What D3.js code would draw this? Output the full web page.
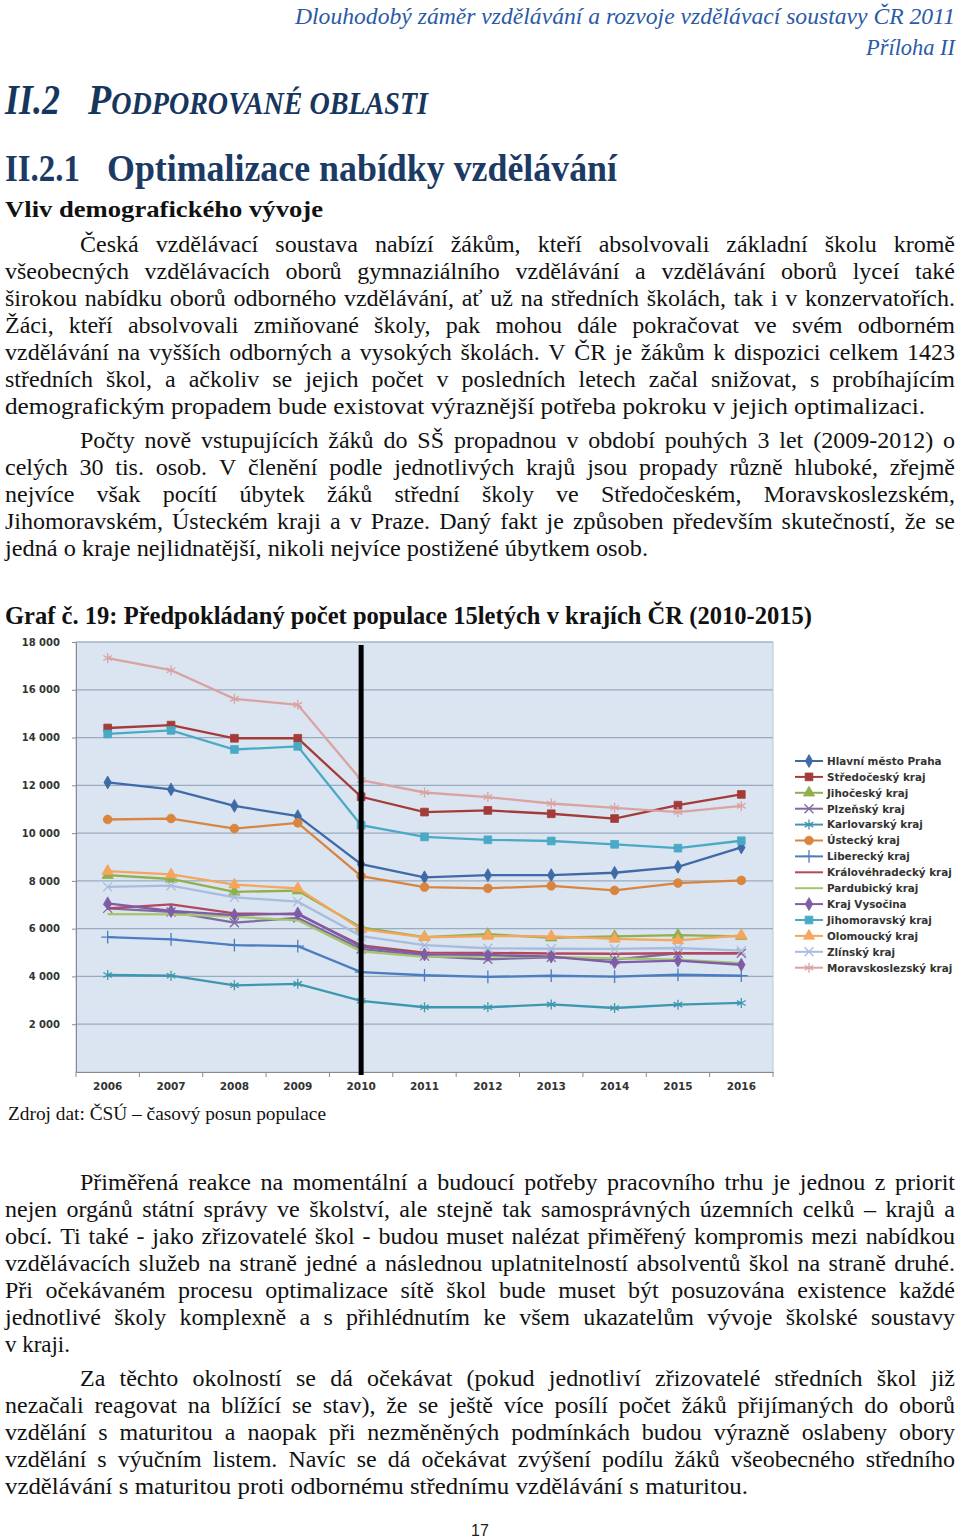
<!DOCTYPE html>
<html><head><meta charset="utf-8">
<script src="https://cdn.jsdelivr.net/npm/d3@7"></script>
<style>body{margin:0;background:#fff} svg{display:block}</style>
</head><body>
<svg id="page" width="960" height="1540"></svg>
<script>
// ---------- DATA ----------
const years = ["2006","2007","2008","2009","2010","2011","2012","2013","2014","2015","2016"];
const seriesNames = ["Hlavní město Praha","Středočeský kraj","Jihočeský kraj","Plzeňský kraj","Karlovarský kraj","Ústecký kraj","Liberecký kraj","Královéhradecký kraj","Pardubický kraj","Kraj Vysočina","Jihomoravský kraj","Olomoucký kraj","Zlínský kraj","Moravskoslezský kraj"];
const praha        = [12120,11830,11140,10710,8700,8150,8240,8240,8340,8590,9400];
const stredocesky  = [14400,14520,13970,13970,11520,10880,10950,10810,10610,11170,11620];
const jihocesky    = [8240,8080,7540,7590,6050,5650,5770,5620,5680,5730,5680];
const plzensky     = [6850,6700,6250,6450,5150,4850,4720,4800,4700,4970,4970];
const karlovarsky  = [4060,4030,3630,3690,2980,2710,2710,2830,2680,2820,2890];
const ustecky      = [10570,10610,10190,10430,8200,7740,7690,7790,7600,7910,8020];
const liberecky    = [5650,5550,5310,5270,4180,4050,3980,4030,3990,4070,4030];
const kralovehradecky = [6850,7020,6640,6600,5300,5000,4990,4960,4950,4970,4970];
const pardubicky   = [6610,6600,6500,6350,5050,4820,4850,4820,4760,4700,4560];
const vysocina     = [7060,6740,6570,6640,5250,4920,4900,4830,4590,4660,4490];
const jihomoravsky = [14150,14300,13500,13630,10330,9840,9720,9670,9530,9370,9680];
const olomoucky    = [8410,8270,7840,7690,5980,5640,5690,5680,5570,5510,5720];
const zlinsky      = [7750,7800,7310,7130,5690,5310,5180,5160,5150,5190,5080];
const moravskoslezsky = [17330,16820,15620,15370,12220,11700,11510,11240,11060,10880,11140];
const yTicks = [2000,4000,6000,8000,10000,12000,14000,16000,18000];
const markerYear = "2010";

const seriesValues = [praha,stredocesky,jihocesky,plzensky,karlovarsky,ustecky,liberecky,kralovehradecky,pardubicky,vysocina,jihomoravsky,olomoucky,zlinsky,moravskoslezsky];
const seriesColors = ["#3e6aa8","#a33c39","#8fb04d","#7d6c9e","#3f97ae","#d9843f","#4b7dc0","#b3475e","#a6c46b","#7e5ca6","#4aaac5","#f5a55c","#a8bcdc","#d9a3a1"];
const seriesMarkers = ["diamond","square","triangle","times","asterisk","circle","plus",null,null,"diamond","square","triangle","times","asterisk"];

// ---------- TEXT ----------
const para1 = [
"Česká vzdělávací soustava nabízí žákům, kteří absolvovali základní školu kromě",
"všeobecných vzdělávacích oborů gymnaziálního vzdělávání a vzdělávání oborů lyceí také",
"širokou nabídku oborů odborného vzdělávání, ať už na středních školách, tak i v konzervatořích.",
"Žáci, kteří absolvovali zmiňované školy, pak mohou dále pokračovat ve svém odborném",
"vzdělávání na vyšších odborných a vysokých školách. V ČR je žákům k dispozici celkem 1423",
"středních škol, a ačkoliv se jejich počet v posledních letech začal snižovat, s probíhajícím",
"demografickým propadem bude existovat výraznější potřeba pokroku v jejich optimalizaci."];
const para2 = [
"Počty nově vstupujících žáků do SŠ propadnou v období pouhých 3 let (2009-2012) o",
"celých 30 tis. osob. V členění podle jednotlivých krajů jsou propady různě hluboké, zřejmě",
"nejvíce však pocítí úbytek žáků střední školy ve Středočeském, Moravskoslezském,",
"Jihomoravském, Ústeckém kraji a v Praze. Daný fakt je způsoben především skutečností, že se",
"jedná o kraje nejlidnatější, nikoli nejvíce postižené úbytkem osob."];
const para3 = [
"Přiměřená reakce na momentální a budoucí potřeby pracovního trhu je jednou z priorit",
"nejen orgánů státní správy ve školství, ale stejně tak samosprávných územních celků – krajů a",
"obcí. Ti také - jako zřizovatelé škol - budou muset nalézat přiměřený kompromis mezi nabídkou",
"vzdělávacích služeb na straně jedné a následnou uplatnitelností absolventů škol na straně druhé.",
"Při očekávaném procesu optimalizace sítě škol bude muset být posuzována existence každé",
"jednotlivé školy komplexně a s přihlédnutím ke všem ukazatelům vývoje školské soustavy",
"v kraji."];
const para4 = [
"Za těchto okolností se dá očekávat (pokud jednotliví zřizovatelé středních škol již",
"nezačali reagovat na blížící se stav), že se ještě více posílí počet žáků přijímaných do oborů",
"vzdělání s maturitou a naopak při nezměněných podmínkách budou výrazně oslabeny obory",
"vzdělání s výučním listem. Navíc se dá očekávat zvýšení podílu žáků všeobecného středního",
"vzdělávání s maturitou proti odbornému střednímu vzdělávání s maturitou."];
const lastLineEnds = [925, 648, 70, 748];

// ---------- DRAW ----------
const svg = d3.select("#page");
const SERIF = "'Liberation Serif','Times New Roman',serif";
const SANS = "'DejaVu Sans',Verdana,sans-serif";

// calibrate body font size on a naturally set line
const probe = svg.append("text").attr("font-family",SERIF).attr("font-size",22).text(para1[6]);
const wProbe = probe.node().getComputedTextLength();
probe.remove();
const bodySize = Math.max(20, Math.min(24, 22*920/wProbe));
const minGap = bodySize*0.2;

function bodyLine(str, x0, y, xEnd, justify){
  const t = svg.append("text").attr("font-family",SERIF)
    .attr("font-size",bodySize).attr("fill","#111");
  const words = str.split(" ");
  const spans = words.map(w => t.append("tspan").text(w));
  const widths = spans.map(s => s.node().getComputedTextLength());
  const sumW = d3.sum(widths);
  const n = words.length-1;
  const target = xEnd - x0;
  let gap, scale = 1;
  if(justify){
    gap = n>0 ? (target - sumW)/n : 0;
    if(n>0 && gap < minGap){ scale = target/(sumW + minGap*n); gap = minGap; }
  } else {
    const natGap = bodySize*0.25;
    scale = target/(sumW + natGap*n);
    gap = natGap;
  }
  t.attr("transform",`translate(${x0},${y}) scale(${scale},1)`);
  let cx = 0;
  spans.forEach((s,i)=>{ s.attr("x",cx).attr("y",0); cx += widths[i]+gap; });
}
function drawPara(lines, y0, lh, lastEnd){
  lines.forEach((ln,i)=>{
    const last = i===lines.length-1;
    bodyLine(ln, i===0?80:5, y0+i*lh, last?lastEnd:955, !last);
  });
}
function fitText(str, x, y, w, opts){
  const t = svg.append("text").attr("x",x).attr("y",y)
    .attr("font-family",opts.family||SERIF).attr("font-size",opts.size)
    .attr("font-weight",opts.weight||"normal").attr("font-style",opts.style||"normal")
    .attr("fill",opts.fill||"#111").text(str);
  if(w) t.attr("textLength",w).attr("lengthAdjust","spacingAndGlyphs");
  return t;
}

// header
fitText("Dlouhodobý záměr vzdělávání a rozvoje vzdělávací soustavy ČR 2011",295,24,660,{size:23,style:"italic",fill:"#2b5aa6"});
fitText("Příloha II",866,55,89,{size:23,style:"italic",fill:"#2b5aa6"});
fitText("II.2",5,114,55,{size:42,style:"italic",weight:"bold",fill:"#17365d"});
const sc = fitText("",88,114,340,{size:42,style:"italic",weight:"bold",fill:"#17365d"});
sc.append("tspan").text("P");
sc.append("tspan").attr("font-size",31).text("ODPOROVANÉ OBLASTI");
fitText("II.2.1",5,181,75,{size:37,weight:"bold",fill:"#1b3a64"});
fitText("Optimalizace nabídky vzdělávání",107,181,510,{size:37,weight:"bold",fill:"#1b3a64"});
fitText("Vliv demografického vývoje",5,217,318,{size:24,weight:"bold",fill:"#111"});

drawPara(para1, 251.5, 27.1, lastLineEnds[0]);
drawPara(para2, 448, 27.1, lastLineEnds[1]);

fitText("Graf č. 19: Předpokládaný počet populace 15letých v krajích ČR (2010-2015)",5,624,807,{size:26,weight:"bold",fill:"#111"});

// ---------- CHART ----------
const plot = {l:76, r:773, t:642, b:1072};
const x = d3.scaleBand().domain(years).range([plot.l, plot.r]);
const cx = d => x(d) + x.bandwidth()/2;
const y = d3.scaleLinear().domain([0,18000]).range([plot.b, plot.t]);
const chart = svg.append("g");

chart.append("rect").attr("x",plot.l).attr("y",plot.t).attr("width",plot.r-plot.l).attr("height",plot.b-plot.t)
  .attr("fill","#dbe5f1").attr("stroke","#b9c6d6").attr("stroke-width",1);
chart.append("g").selectAll("line").data(yTicks).join("line")
  .attr("x1",plot.l).attr("x2",plot.r).attr("y1",d=>y(d)).attr("y2",d=>y(d))
  .attr("stroke","#9aabc1").attr("stroke-width",1.2);

const fmt = d3.formatLocale({decimal:",",thousands:" ",grouping:[3],currency:["",""]}).format(",");
const yAxis = chart.append("g").attr("transform",`translate(${plot.l},0)`)
  .call(d3.axisLeft(y).tickValues(yTicks).tickFormat(fmt).tickSize(4).tickSizeOuter(0).tickPadding(12));
yAxis.select(".domain").attr("stroke","#8a8a8a");
yAxis.selectAll(".tick line").attr("stroke","#8a8a8a");
yAxis.selectAll("text").attr("font-family",SANS).attr("font-weight","bold").attr("font-size",10).attr("fill","#333");

const xAxis = chart.append("g").attr("transform",`translate(0,${plot.b})`)
  .call(d3.axisBottom(x).tickSize(0).tickPadding(11));
xAxis.select(".domain").attr("stroke","#8a8a8a");
xAxis.selectAll("text").attr("font-family",SANS).attr("font-weight","bold").attr("font-size",10.5).attr("fill","#333");
chart.append("g").selectAll("line").data(years.concat(["__end"])).join("line")
  .attr("x1",(d,i)=> i<years.length ? x(d) : plot.r).attr("x2",(d,i)=> i<years.length ? x(d) : plot.r)
  .attr("y1",plot.b).attr("y2",plot.b+5).attr("stroke","#8a8a8a");

const symbolMap = {diamond:[d3.symbolDiamond,48,true],square:[d3.symbolSquare,60,true],triangle:[d3.symbolTriangle,55,true],
  circle:[d3.symbolCircle,60,true],times:[d3.symbolTimes,55,false],asterisk:[d3.symbolAsterisk,70,false],plus:[d3.symbolPlus,55,false]};
function drawMarker(g, type, color, px, py){
  if(!type) return;
  const [sym,size,fill] = symbolMap[type];
  g.append("path").attr("d",d3.symbol(sym,size)()).attr("transform",`translate(${px},${py})`)
    .attr("fill",fill?color:"none").attr("stroke",color).attr("stroke-width",fill?0.8:1.3);
}
const line = d3.line().x((d,i)=>cx(years[i])).y(d=>y(d));
seriesValues.forEach((vals,si)=>{
  const g = chart.append("g");
  g.append("path").attr("d",line(vals)).attr("fill","none").attr("stroke",seriesColors[si]).attr("stroke-width",2.3);
  vals.forEach((v,i)=> drawMarker(g, seriesMarkers[si], seriesColors[si], cx(years[i]), y(v)));
});

// black marker line at 2010
chart.append("line").attr("x1",cx(markerYear)).attr("x2",cx(markerYear)).attr("y1",645).attr("y2",1075)
  .attr("stroke","#000").attr("stroke-width",5);

// legend
const lg = chart.append("g").attr("transform","translate(795,761)");
seriesNames.forEach((n,i)=>{
  const gy = i*15.9;
  lg.append("line").attr("x1",0).attr("x2",28).attr("y1",gy).attr("y2",gy).attr("stroke",seriesColors[i]).attr("stroke-width",2);
  drawMarker(lg, seriesMarkers[i], seriesColors[i], 14, gy);
  lg.append("text").attr("x",32).attr("y",gy+3.8).attr("font-family",SANS).attr("font-weight","bold")
    .attr("font-size",10.4).attr("fill","#333").text(n);
});

fitText("Zdroj dat: ČSÚ – časový posun populace",8,1120,318,{size:19,fill:"#111"});

drawPara(para3, 1189.5, 27.1, lastLineEnds[2]);
drawPara(para4, 1386, 27.1, lastLineEnds[3]);

svg.append("text").attr("x",480).attr("y",1536).attr("text-anchor","middle")
  .attr("font-family","'Liberation Sans','Open Sans',sans-serif").attr("font-size",16).attr("fill","#222").text("17");
</script>
</body></html>
